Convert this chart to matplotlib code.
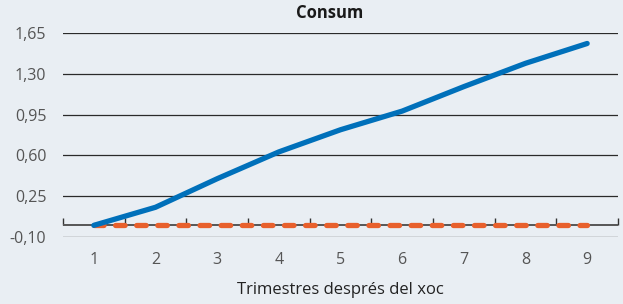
import matplotlib.pyplot as plt
import numpy as np

# Dades llegides del gràfic
trimestres = ["1", "2", "3", "4", "5", "6", "7", "8", "9"]
consum = [0.0, 0.155, 0.40, 0.63, 0.82, 0.98, 1.19, 1.39, 1.56]
referencia = [0.0, 0.0, 0.0, 0.0, 0.0, 0.0, 0.0, 0.0, 0.0]
yticks = [-0.10, 0.25, 0.60, 0.95, 1.30, 1.65]

BG = "#E9EEF3"
BLUE = "#0070BA"
ORANGE = "#E8602C"

plt.rcParams["font.family"] = ["Open Sans", "DejaVu Sans"]

fig = plt.figure(figsize=(6.23, 3.04), dpi=100, facecolor=BG)
ax = fig.add_axes([63 / 623, 1 - 237 / 304, 555 / 623, 204 / 304])
ax.set_facecolor(BG)

x = np.arange(1, len(trimestres) + 1)

for t in yticks:
    ax.axhline(t, color="#2a2a2a", lw=0.9, zorder=1)
ax.axhline(0, color="#555555", lw=1.4, zorder=2)

ax.plot(x, referencia, color=ORANGE, lw=3.8, dashes=(1.8, 2.2),
        dash_capstyle="round", zorder=3)
ax.plot(x, consum, color=BLUE, lw=3.8, solid_capstyle="round", zorder=4)

ax.set_xlim(0.5, len(trimestres) + 0.5)
ax.set_ylim(yticks[0], yticks[-1])
ax.set_yticks(yticks)
ax.set_yticklabels([f"{t:.2f}".replace(".", ",") for t in yticks])
ax.set_xticks(x)
ax.set_xticklabels(trimestres)
ax.tick_params(axis="both", length=0, labelsize=11.5, labelcolor="#555555")
ax.tick_params(axis="y", pad=12)
ax.tick_params(axis="x", pad=11)
for s in ax.spines.values():
    s.set_visible(False)

# eix secundari a y=0 amb marques entre categories
sec = ax.secondary_xaxis(0, transform=ax.transData)
sec.set_xticks(np.arange(0.5, len(trimestres) + 1, 1.0))
sec.tick_params(direction="in", length=5, width=1.0, color="#333333",
                labelbottom=False)
sec.spines["bottom"].set_visible(False)

ax.set_xlabel("Trimestres després del xoc", fontsize=12, color="#222222",
              labelpad=10)
fig.text(330 / 623, 1 - 13 / 304, "Consum", ha="center", va="center",
         fontsize=12, fontweight="bold", color="#1a1a1a")

fig.savefig("out.png", dpi=100, facecolor=BG)
